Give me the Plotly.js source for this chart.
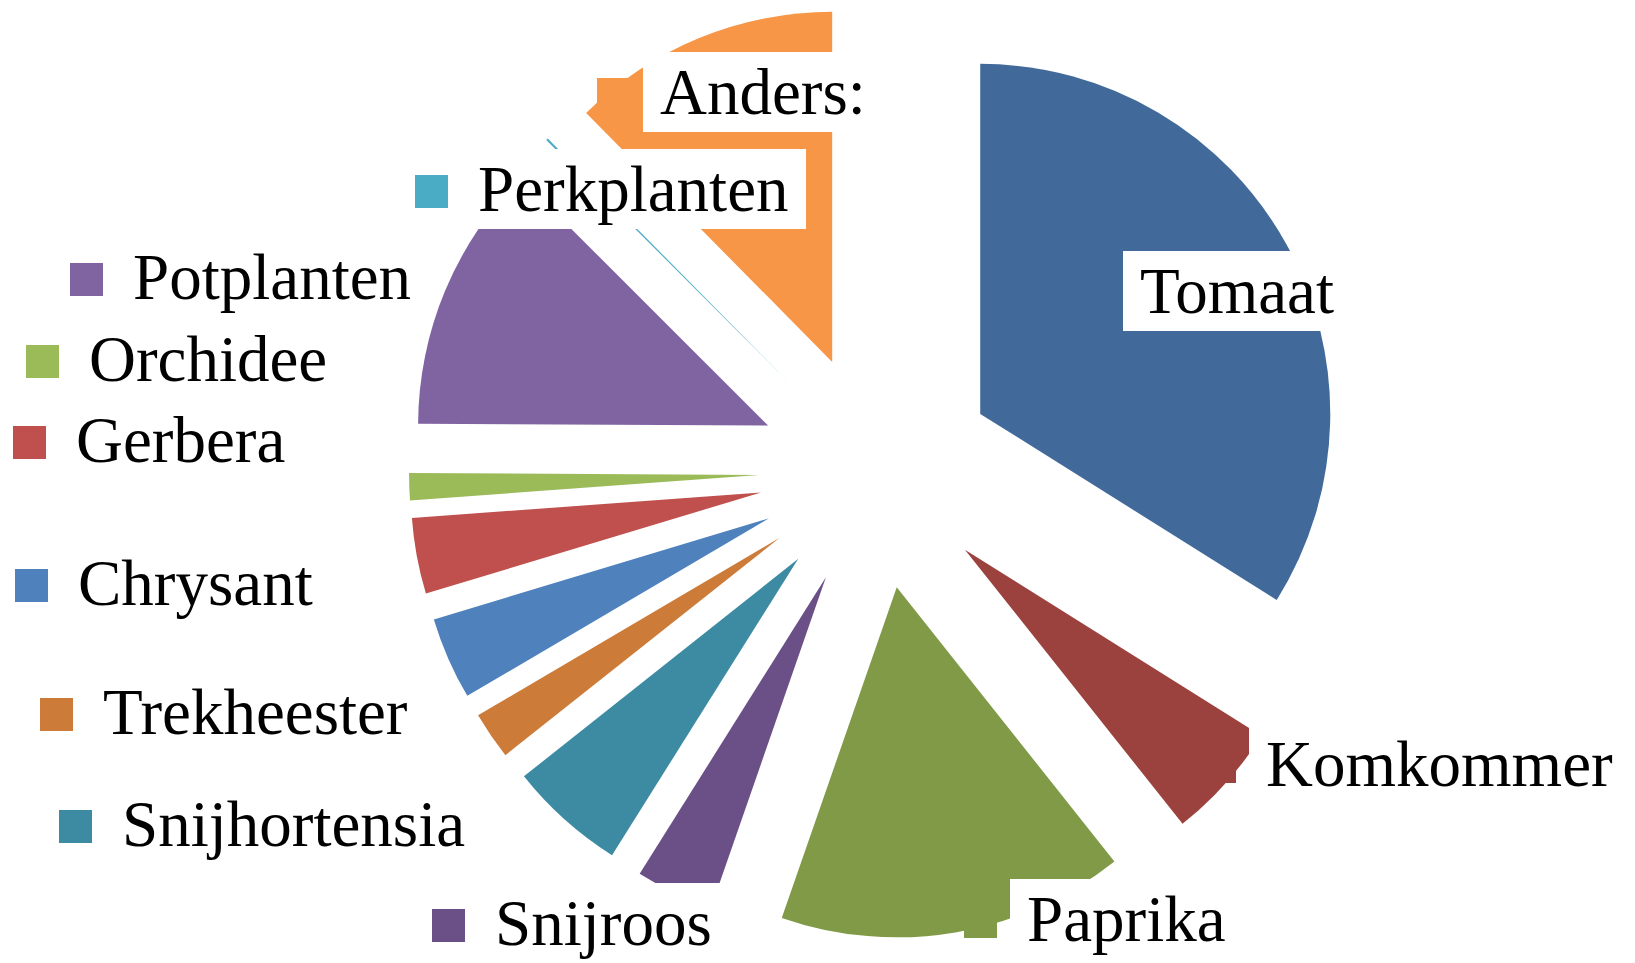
<!DOCTYPE html>
<html>
<head>
<meta charset="utf-8">
<script src="https://cdn.plot.ly/plotly-3.0.1.min.js"></script>
<style>html,body{margin:0;padding:0;background:#fff}</style>
</head>
<body>
<div id="chart" style="width:1635px;height:963px"></div>
<script>
// categories and shares (percent)
var labels = ["Tomaat", "Komkommer", "Paprika", "Snijroos", "Snijhortensia", "Trekheester",
              "Chrysant", "Gerbera", "Orchidee", "Potplanten", "Perkplanten", "Anders:"];
var shares = [33.9, 5.4, 16.0, 3.6, 5.4, 2.2, 3.8, 3.5, 1.25, 12.4, 0.1, 12.4];
var colors = ["#416a9b", "#9b413e", "#809a48", "#6b5088", "#3d8ba2", "#cc7b38",
              "#4f81bd", "#c0504d", "#9bbb59", "#8064a2", "#4bacc6", "#f79646"];

// label placement in pixels: [text left, baseline]
var labelPos = [[1140, 316], [1266, 789], [1027, 944], [495, 948], [122, 849], [103, 737],
                [78, 608], [76, 465], [89, 384], [133, 302], [478, 214], [660, 117]];

var W = 1635, H = 963;
var FONT = "Liberation Serif, Times New Roman, serif";

var data = [{
    type: "pie",
    labels: labels,
    values: shares,
    sort: false,
    direction: "clockwise",
    rotation: 0,
    pull: labels.map(function () { return 0.337; }),
    marker: {colors: colors, line: {width: 0}},
    textinfo: "none",
    hoverinfo: "label+percent",
    domain: {x: [409 / W, 1345 / W], y: [1 - 939 / H, 1 - 3 / H]}
}];

var annotations = [];
// legend keys first, then the white label boxes on top
for (var i = 0; i < labels.length; i++) {
    var tx = labelPos[i][0], base = labelPos[i][1];
    annotations.push({
        xref: "paper", yref: "paper", xanchor: "left", yanchor: "top",
        x: (tx - 63) / W, y: 1 - (base - 39) / H,
        text: "&nbsp;", showarrow: false,
        width: 33, height: 33, borderpad: 0, borderwidth: 0,
        bgcolor: colors[i]
    });
}
for (var i = 0; i < labels.length; i++) {
    var tx = labelPos[i][0], base = labelPos[i][1];
    annotations.push({
        xref: "paper", yref: "paper", xanchor: "left", yanchor: "top",
        x: (tx - 17) / W, y: 1 - (base - 65) / H,
        text: "&#8201;" + labels[i] + "&#8201;", showarrow: false,
        font: {family: FONT, size: 65, color: "#000"},
        bgcolor: "#ffffff", borderpad: 4, borderwidth: 0
    });
}

var layout = {
    width: W, height: H,
    margin: {l: 0, r: 0, t: 0, b: 0},
    paper_bgcolor: "#ffffff",
    showlegend: false,
    annotations: annotations
};

Plotly.newPlot("chart", data, layout, {displayModeBar: false});
</script>
</body>
</html>
